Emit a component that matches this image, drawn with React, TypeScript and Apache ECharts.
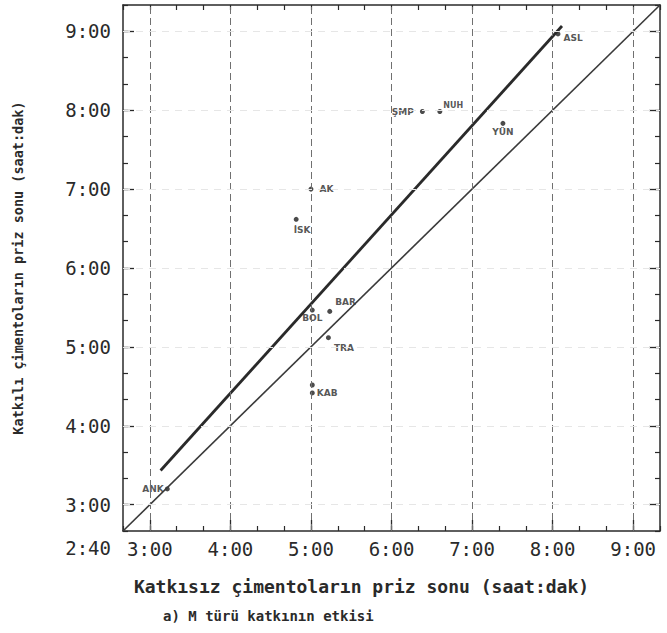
import React, { useEffect, useRef } from "react";
import * as echarts from "echarts";

// Times in minutes since 0:00
const cementCodes = ["ANK", "AK", "İSK", "BOL", "BAR", "TRA", "KAB2", "KAB", "ŞMP", "NUH", "YÜN", "ASL"];
const setWithoutAdmixture = [193, 300, 289, 301, 314, 313, 301, 301, 383, 396, 443, 484];
const setWithAdmixture = [192, 420, 397, 328, 327, 307, 271, 265, 479, 479, 470, 538];

const equalityLineX = [160, 560];
const equalityLineY = [160, 560];
const trendLineX = [188, 487];
const trendLineY = [206, 544];

const hourTicks = [180, 240, 300, 360, 420, 480, 540];
const yLabelValues = [160, 180, 240, 300, 360, 420, 480, 540];
const axisMin = 160;
const axisMax = 560;

const xTitle = "Katkısız çimentoların priz sonu (saat:dak)";
const yTitle = "Katkılı çimentoların priz sonu (saat:dak)";
const caption = "a) M türü katkının etkisi";

const fmt = (v: number) => `${Math.floor(v / 60)}:${String(Math.round(v % 60)).padStart(2, "0")}`;

const MONO = "'DejaVu Sans Mono', 'Liberation Mono', monospace";
const INK = "#2a2a2a";

const labelPlacement: Record<string, any> = {
  ANK: { position: "left", distance: 1 },
  AK: { position: "right", distance: 6 },
  "İSK": { position: "bottom", distance: 4, offset: [6, 0] },
  BOL: { position: "bottom", distance: 1 },
  BAR: { position: "right", distance: 3, offset: [0, -9] },
  TRA: { position: "right", distance: 3, offset: [0, 10] },
  KAB2: { show: false },
  KAB: { position: "right", distance: 2 },
  "ŞMP": { position: "left", distance: 6 },
  NUH: { position: "right", distance: 1, offset: [0, -6], fontSize: 8 },
  "YÜN": { position: "bottom", distance: 2 },
  ASL: { position: "right", distance: 3, offset: [0, 4] },
};

export default function App() {
  const ref = useRef<HTMLDivElement>(null);
  useEffect(() => {
    if (!ref.current) return;
    const chart = echarts.init(ref.current, null, { renderer: "svg" });

    const baseAxis = {
      type: "value",
      min: axisMin,
      max: axisMax,
      interval: 20,
      splitLine: { show: false },
    };
    const minorTickAxis = (pos: string, withLine: boolean) => ({
      ...baseAxis,
      position: pos,
      axisLine: { show: withLine, onZero: false, lineStyle: { color: INK, width: 1.5 } },
      axisTick: { show: true, inside: true, length: 5, lineStyle: { color: INK, width: 1.2 } },
      axisLabel: { show: false },
    });
    const hourTickAxis = (pos: string) => ({
      ...baseAxis,
      position: pos,
      axisLine: { show: false, onZero: false },
      axisTick: { show: true, inside: true, length: 11, customValues: hourTicks, lineStyle: { color: INK, width: 1.3 } },
      axisLabel: { show: false },
    });

    const points = cementCodes.map((code, i) => {
      const p = labelPlacement[code] || {};
      return {
        name: code,
        value: [setWithoutAdmixture[i], setWithAdmixture[i]],
        label: {
          show: p.show !== false,
          formatter: code,
          position: p.position,
          distance: p.distance,
          offset: p.offset,
          fontSize: p.fontSize || 9,
          fontWeight: "bold",
          fontFamily: "'DejaVu Sans', sans-serif",
          color: INK,
        },
      };
    });

    chart.setOption({
      animation: false,
      backgroundColor: "#ffffff",
      grid: { left: 123, top: 5, width: 537, height: 526, containLabel: false },
      xAxis: [
        {
          ...minorTickAxis("bottom", true),
          axisLabel: {
            show: true,
            customValues: hourTicks,
            formatter: (v: number) => fmt(v),
            fontFamily: MONO,
            fontSize: 19,
            color: INK,
            margin: 8,
          },
          name: xTitle,
          nameLocation: "middle",
          nameGap: 46,
          nameTextStyle: {
            fontFamily: MONO,
            fontSize: 18,
            fontWeight: "bold",
            color: INK,
            padding: [0, 60, 0, 0],
          },
        },
        hourTickAxis("bottom"),
        minorTickAxis("top", true),
      ],
      yAxis: [
        {
          ...minorTickAxis("left", true),
          axisLabel: {
            show: true,
            customValues: yLabelValues,
            formatter: (v: number) => (v === 160 ? `{lo|${fmt(v)}}` : fmt(v)),
            fontFamily: MONO,
            fontSize: 19,
            color: INK,
            margin: 12,
            rich: {
              lo: { fontFamily: MONO, fontSize: 19, color: INK, padding: [34, 0, 0, 0] },
            },
          },
          name: yTitle,
          nameLocation: "middle",
          nameGap: 98,
          nameRotate: 90,
          nameTextStyle: { fontFamily: MONO, fontSize: 13.5, fontWeight: "bold", color: INK },
        },
        hourTickAxis("left"),
        minorTickAxis("right", true),
        hourTickAxis("right"),
      ],
      series: [
        {
          type: "line",
          xAxisIndex: 0,
          yAxisIndex: 0,
          data: [],
          silent: true,
          markLine: {
            silent: true,
            symbol: "none",
            label: { show: false },
            lineStyle: { color: "#707070", width: 1, type: [7, 4] },
            data: hourTicks.map((v) => ({ xAxis: v })),
          },
        },
        {
          type: "line",
          xAxisIndex: 0,
          yAxisIndex: 0,
          data: [],
          silent: true,
          markLine: {
            silent: true,
            symbol: "none",
            label: { show: false },
            lineStyle: { color: "#e6e6e6", width: 1, type: [7, 6] },
            data: hourTicks.map((v) => ({ yAxis: v })),
          },
        },
        {
          type: "line",
          xAxisIndex: 0,
          yAxisIndex: 0,
          symbol: "none",
          lineStyle: { color: "#3a3a3a", width: 1.6 },
          data: equalityLineX.map((x, i) => [x, equalityLineY[i]]),
        },
        {
          type: "line",
          xAxisIndex: 0,
          yAxisIndex: 0,
          symbol: "none",
          lineStyle: { color: "#2a2a2a", width: 2.8 },
          data: trendLineX.map((x, i) => [x, trendLineY[i]]),
        },
        {
          type: "scatter",
          xAxisIndex: 0,
          yAxisIndex: 0,
          symbolSize: 5,
          itemStyle: { color: "#1e1e1e" },
          data: points,
        },
      ],
      graphic: [
        {
          type: "text",
          left: 163,
          top: 609,
          style: { text: caption, fontFamily: MONO, fontSize: 14, fontWeight: "bold", fill: INK },
        },
      ],
    });
    return () => chart.dispose();
  }, []);

  return (
    <div
      ref={ref}
      style={{ position: "fixed", left: 0, top: 0, width: 667, height: 633, background: "#fff" }}
    />
  );
}
